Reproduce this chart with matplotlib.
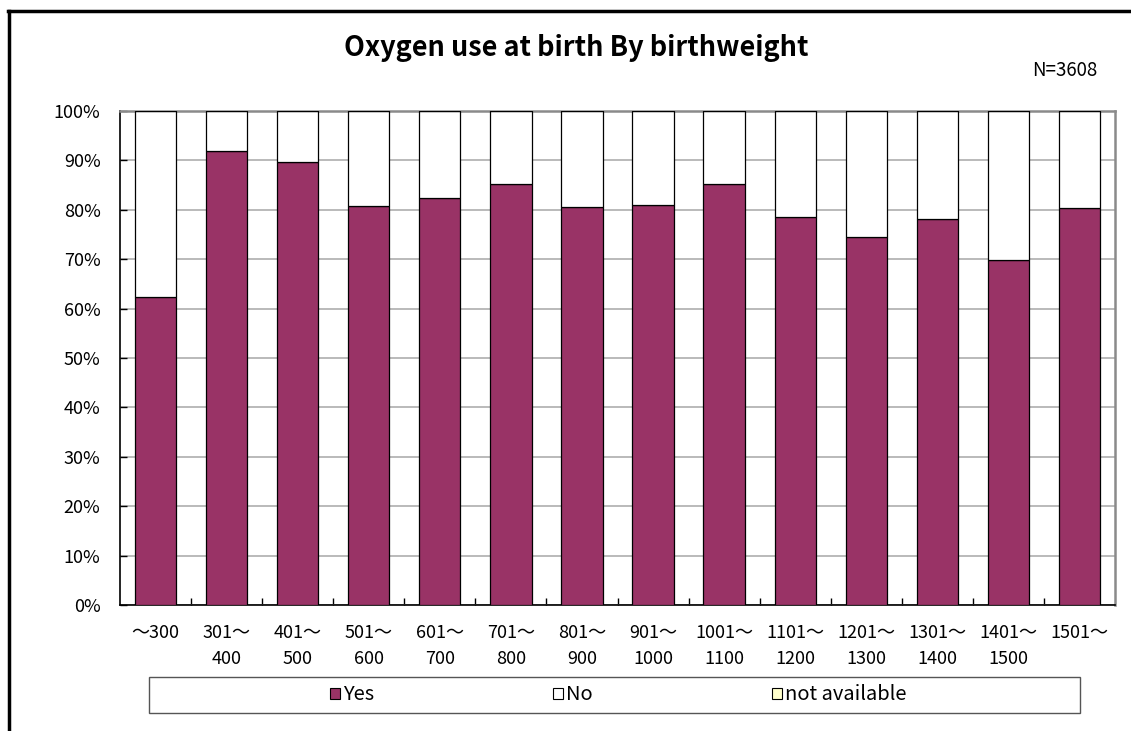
import numpy as np
import matplotlib
matplotlib.use("Agg")
import matplotlib.pyplot as plt
from matplotlib.patches import Rectangle, Patch
from matplotlib.lines import Line2D
from matplotlib.ticker import MultipleLocator, PercentFormatter

plt.rcParams['font.family'] = ['Noto Sans CJK JP', 'DejaVu Sans']

# birthweight classes (g) and share of infants receiving oxygen at birth (%)
categories = ["～300", "301～\n400", "401～\n500", "501～\n600", "601～\n700",
              "701～\n800", "801～\n900", "901～\n1000", "1001～\n1100",
              "1101～\n1200", "1201～\n1300", "1301～\n1400", "1401～\n1500",
              "1501～"]
yes = [62.4, 92.0, 89.6, 80.7, 82.4, 85.3, 80.6, 80.9, 85.2, 78.6, 74.5, 78.1, 69.8, 80.3]
not_available = [0.0] * 14
no = [100 - y - n for y, n in zip(yes, not_available)]
n_total = 3608

c_yes = "#993366"
c_no = "#ffffff"
c_na = "#ffffcc"

fig = plt.figure(figsize=(11.31, 7.31), dpi=100)
ax = fig.add_axes([120 / 1131, 1 - 605 / 731, 995 / 1131, 494 / 731])

x = np.arange(len(categories))
w = 0.58
ax.bar(x, yes, w, color=c_yes, edgecolor="black", linewidth=0.9, zorder=3)
ax.bar(x, no, w, bottom=yes, color=c_no, edgecolor="black", linewidth=0.9, zorder=3)
ax.bar(x, not_available, w, bottom=np.array(yes) + np.array(no), color=c_na,
       edgecolor="black", linewidth=0.9, zorder=3)

ax.set_xlim(-0.5, len(categories) - 0.5)
ax.set_ylim(0, 100)
ax.yaxis.set_major_locator(MultipleLocator(10))
ax.yaxis.set_major_formatter(PercentFormatter(decimals=0))
ax.grid(axis="y", color="#b4b4b4", linewidth=1.3, zorder=0)

ax.set_xticks(x)
ax.set_xticklabels(categories, fontsize=13, linespacing=1.55)
ax.set_xticks(x[:-1] + 0.5, minor=True)
ax.tick_params(axis="x", which="major", length=0, pad=14)
ax.tick_params(axis="x", which="minor", direction="in", length=5, width=1)
ax.tick_params(axis="y", direction="in", length=5, width=1, labelsize=13, pad=14)

for s in ["left", "bottom"]:
    ax.spines[s].set_color("black")
    ax.spines[s].set_linewidth(1.2)
for s in ["top", "right"]:
    ax.spines[s].set_color("#8a8a8a")
    ax.spines[s].set_linewidth(1.8)

fig.text(576 / 1131, 1 - 48 / 731, "Oxygen use at birth By birthweight",
         ha="center", va="center", fontsize=19.5, fontweight="bold")
fig.text(1097 / 1131, 1 - 71 / 731, f"N={n_total}", ha="right", va="center", fontsize=13.5)

# outer chart frame (top and left edges)
fig.add_artist(Line2D([8 / 1131, 1], [1 - 11 / 731, 1 - 11 / 731], color="black",
                      linewidth=2.5, transform=fig.transFigure))
fig.add_artist(Line2D([9 / 1131, 9 / 1131], [0, 1 - 11 / 731], color="black",
                      linewidth=2.5, transform=fig.transFigure))

# legend box
fig.add_artist(Rectangle((149 / 1131, 1 - 713 / 731), 931 / 1131, 36 / 731,
                         transform=fig.transFigure, facecolor="white",
                         edgecolor="#555555", linewidth=1.0))
handles = [Patch(facecolor=c_yes, edgecolor="black", linewidth=0.8),
           Patch(facecolor=c_no, edgecolor="black", linewidth=0.8),
           Patch(facecolor=c_na, edgecolor="black", linewidth=0.8)]
fig.legend(handles, ["Yes", "No", "not available"], loc="center",
           bbox_to_anchor=(618 / 1131, 1 - 695 / 731), ncol=3, frameon=False,
           fontsize=14.5, handlelength=0.5, handleheight=0.5, handletextpad=0.15,
           columnspacing=8.9)

fig.savefig("out.png", dpi=100)
